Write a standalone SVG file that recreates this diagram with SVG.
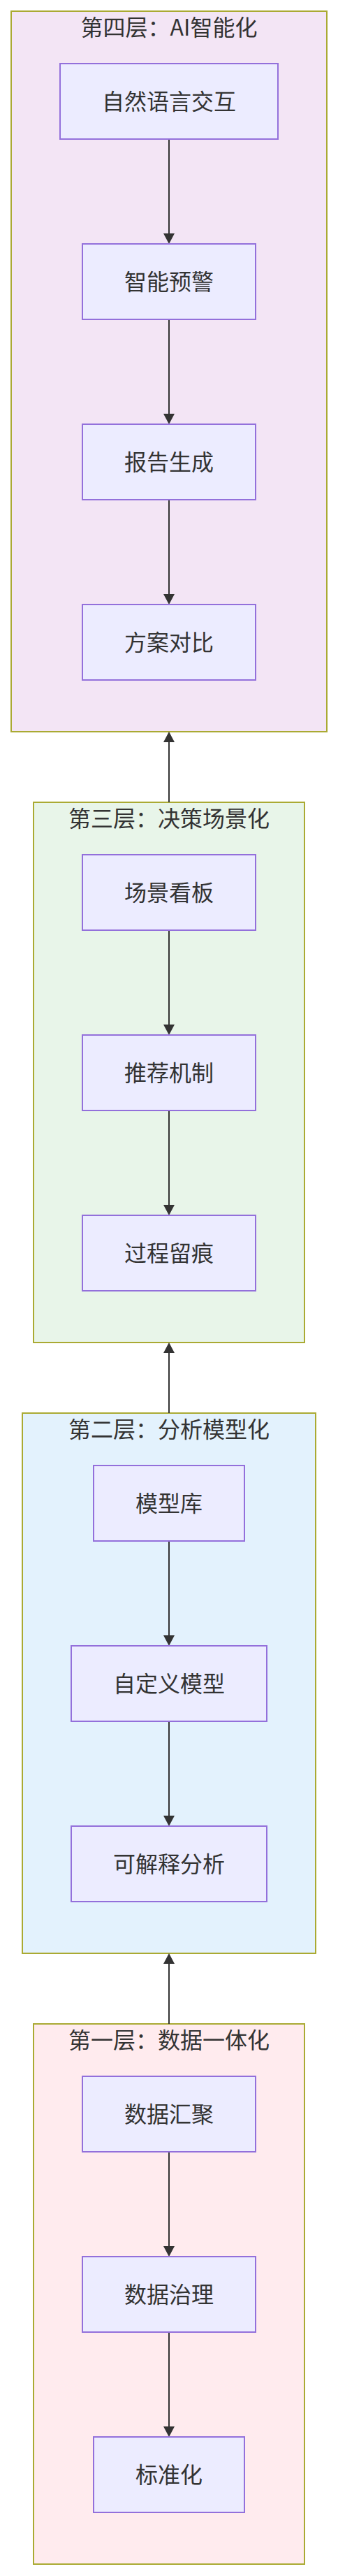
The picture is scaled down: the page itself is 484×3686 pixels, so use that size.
<svg xmlns="http://www.w3.org/2000/svg" width="484" height="3686" viewBox="0 0 484 3686">
<style>
.cl{stroke:#AAAA33;stroke-width:2}
.c4{fill:#F3E5F5}.c3{fill:#E8F5E9}.c2{fill:#E3F2FD}.c1{fill:#FFEBEE}
.nd{fill:#ECECFF;stroke:#9370DB;stroke-width:2}
text{font-family:"Noto Sans CJK SC","Noto Sans",sans-serif;font-size:32px;fill:#333333;text-anchor:middle}
.ed{stroke:#333333;stroke-width:2;fill:none;marker-end:url(#arr)}
</style>
<defs>
<marker id="arr" viewBox="0 0 15 16" markerUnits="userSpaceOnUse" markerWidth="15" markerHeight="16" refX="7" refY="8" orient="auto">
<path d="M0,0 L15,8 L0,16 z" fill="#333333"/>
</marker>
</defs>
<g id="layer4">
<rect class="cl c4" x="16" y="16" width="452" height="1031"/>
<text x="242" y="51">第四层：AI智能化</text>
</g>
<g id="layer3">
<rect class="cl c3" x="48" y="1148" width="388" height="773"/>
<text x="242" y="1183">第三层：决策场景化</text>
</g>
<g id="layer2">
<rect class="cl c2" x="32" y="2022" width="420" height="773"/>
<text x="242" y="2057">第二层：分析模型化</text>
</g>
<g id="layer1">
<rect class="cl c1" x="48" y="2896" width="388" height="773"/>
<text x="242" y="2931">第一层：数据一体化</text>
</g>
<g id="connectors">
<path class="ed" d="M242,199 V341"/>
<path class="ed" d="M242,457 V599"/>
<path class="ed" d="M242,715 V857"/>
<path class="ed" d="M242,1148 V1055"/>
<path class="ed" d="M242,1331 V1473"/>
<path class="ed" d="M242,1589 V1731"/>
<path class="ed" d="M242,2022 V1929"/>
<path class="ed" d="M242,2205 V2347"/>
<path class="ed" d="M242,2463 V2605"/>
<path class="ed" d="M242,2896 V2803"/>
<path class="ed" d="M242,3079 V3221"/>
<path class="ed" d="M242,3337 V3479"/>
</g>
<g id="n_ai1"><rect class="nd" x="86" y="91" width="312" height="108"/><text x="242" y="157">自然语言交互</text></g>
<g id="n_ai2"><rect class="nd" x="118" y="349" width="248" height="108"/><text x="242" y="415">智能预警</text></g>
<g id="n_ai3"><rect class="nd" x="118" y="607" width="248" height="108"/><text x="242" y="673">报告生成</text></g>
<g id="n_ai4"><rect class="nd" x="118" y="865" width="248" height="108"/><text x="242" y="931">方案对比</text></g>
<g id="n_d1"><rect class="nd" x="118" y="1223" width="248" height="108"/><text x="242" y="1289">场景看板</text></g>
<g id="n_d2"><rect class="nd" x="118" y="1481" width="248" height="108"/><text x="242" y="1547">推荐机制</text></g>
<g id="n_d3"><rect class="nd" x="118" y="1739" width="248" height="108"/><text x="242" y="1805">过程留痕</text></g>
<g id="n_m1"><rect class="nd" x="134" y="2097" width="216" height="108"/><text x="242" y="2163">模型库</text></g>
<g id="n_m2"><rect class="nd" x="102" y="2355" width="280" height="108"/><text x="242" y="2421">自定义模型</text></g>
<g id="n_m3"><rect class="nd" x="102" y="2613" width="280" height="108"/><text x="242" y="2679">可解释分析</text></g>
<g id="n_s1"><rect class="nd" x="118" y="2971" width="248" height="108"/><text x="242" y="3037">数据汇聚</text></g>
<g id="n_s2"><rect class="nd" x="118" y="3229" width="248" height="108"/><text x="242" y="3295">数据治理</text></g>
<g id="n_s3"><rect class="nd" x="134" y="3487" width="216" height="108"/><text x="242" y="3553">标准化</text></g>
</svg>
